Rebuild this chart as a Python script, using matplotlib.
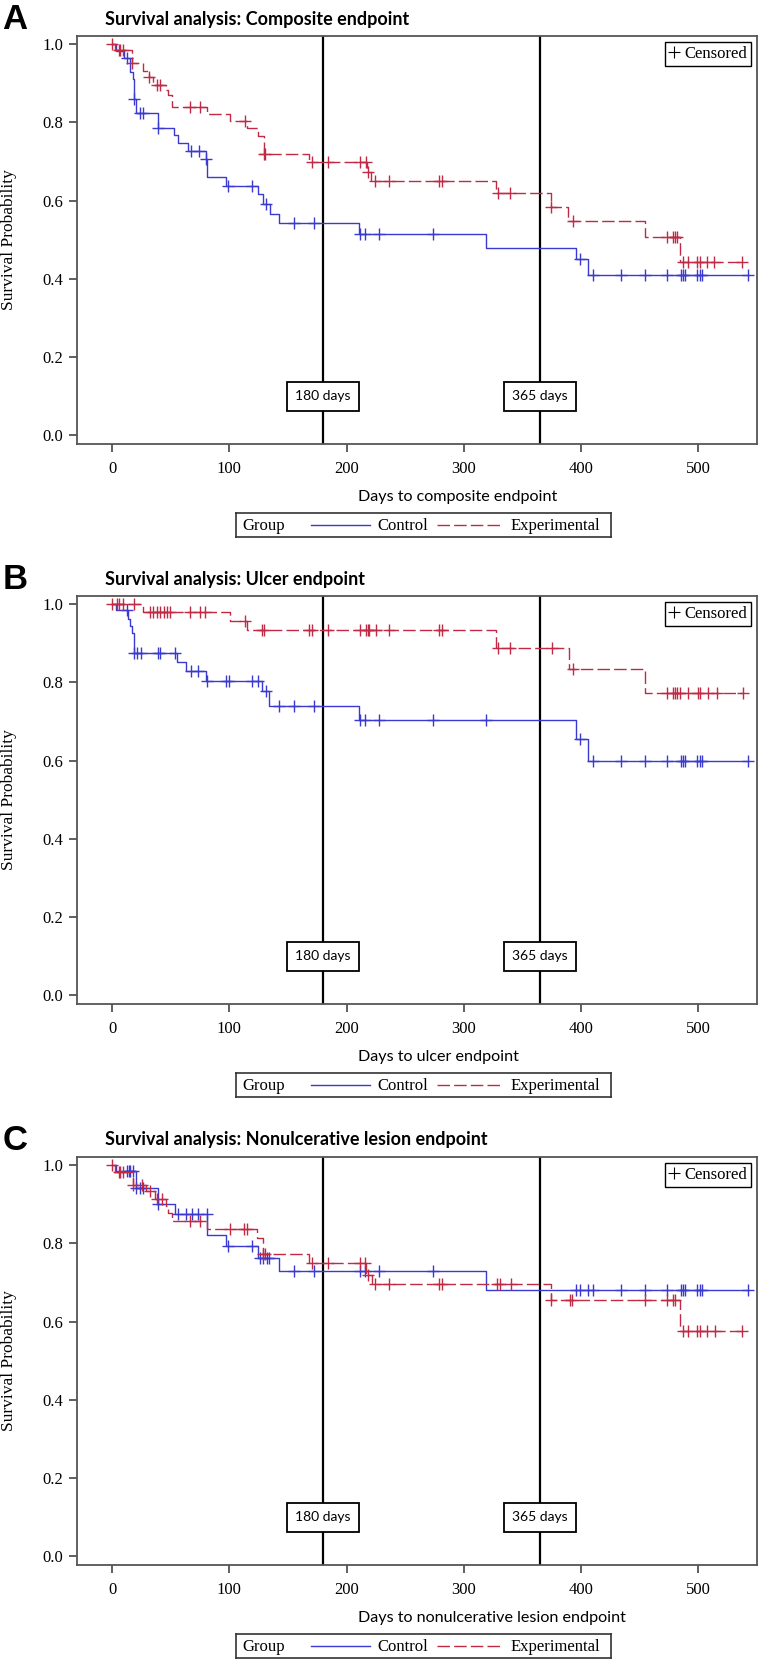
import matplotlib
matplotlib.use("Agg")
import matplotlib.pyplot as plt
import numpy as np
from matplotlib.lines import Line2D

# ---- data (days, survival) ----
titles = ["Survival analysis: Composite endpoint",
          "Survival analysis: Ulcer endpoint",
          "Survival analysis: Nonulcerative lesion endpoint"]
xlabels = ["Days to composite endpoint", "Days to ulcer endpoint",
           "Days to nonulcerative lesion endpoint"]
letters = ["A", "B", "C"]
marks = [180, 365]
xticks = [0, 100, 200, 300, 400, 500]
yticks = [0.0, 0.2, 0.4, 0.6, 0.8, 1.0]

# panel A
a_ctl_t = [3, 10, 15, 17.5, 18.5, 20, 39.5, 52.5, 56, 64.5, 80, 81, 97, 124, 129, 135, 142, 210.5, 319,
           395.5, 406]
a_ctl_s = [0.982, 0.965, 0.93, 0.91, 0.86, 0.825, 0.787, 0.767, 0.747, 0.727, 0.706, 0.66, 0.638, 0.616,
           0.592, 0.567, 0.542, 0.516, 0.48, 0.45, 0.41]
a_ctl_c = [12.5, 18.5, 24, 26, 39.5, 67, 74, 80, 99, 119, 131, 155.5, 172, 211.5, 216, 227.5, 273.5, 399,
           410.5, 434, 454.5, 473.5, 485, 487, 489, 499, 501.5, 503.5, 542.5]
a_exp_t = [2.5, 17, 26, 31, 35, 45.5, 48, 51, 80.5, 100.5, 115, 124, 129.5, 168, 217.5, 221, 327.5, 374,
           389, 454.5, 484.5]
a_exp_s = [0.985, 0.952, 0.932, 0.916, 0.897, 0.882, 0.87, 0.84, 0.821, 0.804, 0.785, 0.765, 0.72, 0.70,
           0.674, 0.65, 0.62, 0.585, 0.548, 0.508, 0.444]
a_exp_c = [0, 5.5, 7, 9.5, 17, 31, 38, 40.5, 66.5, 74.5, 113, 129.5, 130.5, 170.5, 184.5, 211.5, 216.5,
           218.5, 224.5, 236, 279, 281, 329.5, 339.5, 374.5, 393, 473, 478.5, 480, 481.5, 487, 491.5, 499,
           501, 507, 513, 537]

# panel B
b_ctl_t = [3, 13.5, 15.5, 17, 18.5, 55.5, 63, 80, 127.5, 134, 210.5, 395.5, 406]
b_ctl_s = [0.986, 0.962, 0.945, 0.927, 0.876, 0.852, 0.83, 0.804, 0.777, 0.741, 0.704, 0.655, 0.6]
b_ctl_c = [12.5, 18.5, 21.5, 24.5, 39.5, 40.5, 53.5, 67, 73.5, 80.5, 97, 99.5, 119.5, 124, 131, 142.5,
           155.5, 172.5, 211.5, 216, 227.5, 273.5, 319, 399, 410.5, 434, 454.5, 473.5, 485, 487, 489, 499,
           501.5, 503.5, 542.5]
b_exp_t = [26.5, 100.5, 115, 327.5, 389.5, 454.5]
b_exp_s = [0.981, 0.958, 0.934, 0.889, 0.834, 0.774]
b_exp_c = [0, 4, 6, 9, 18.5, 32, 35, 38, 41, 44, 46.5, 49.5, 66, 75, 79.5, 113, 127.5, 129.5, 167.5,
           170.5, 184.5, 211.5, 216.5, 218, 219, 225, 236.5, 279, 281, 329.5, 339.5, 375, 393, 473.5,
           478.5, 480, 481.5, 484.5, 491.5, 500, 501.5, 508.5, 515.5, 538]

# panel C
c_ctl_t = [3, 20.5, 39.5, 54, 81, 97, 124, 142.5, 319]
c_ctl_s = [0.984, 0.943, 0.901, 0.876, 0.821, 0.794, 0.764, 0.73, 0.681]
c_ctl_c = [12.5, 14, 15.5, 17.5, 20.5, 24, 26, 39.5, 56.5, 63, 68, 73.5, 80.5, 99, 119, 126, 129, 132,
           134, 155.5, 172.5, 211.5, 216, 228, 273.5, 395.5, 399, 406, 410.5, 434, 454.5, 473.5, 485, 487,
           489, 499, 501.5, 503.5, 542.5]
c_exp_t = [2.5, 17.5, 29, 36.5, 45.5, 48, 51, 80.5, 123.5, 129, 167.5, 216.5, 221.5, 374, 484.5]
c_exp_s = [0.983, 0.95, 0.934, 0.914, 0.895, 0.877, 0.858, 0.837, 0.815, 0.772, 0.749, 0.72, 0.696,
           0.655, 0.575]
c_exp_c = [0, 5.5, 7, 9.5, 18, 25.5, 32.5, 38, 42.5, 66.5, 75, 100.5, 112.5, 115, 129, 130, 170.5, 184,
           211.5, 216, 218.5, 224.5, 236.5, 279, 281, 328.5, 330.5, 340, 374.5, 390.5, 392, 454.5, 473,
           478.5, 480, 486.5, 491.5, 499, 501, 507, 514, 537]

ctl_end = 542.5
exp_end = 538

panels = [(a_ctl_t, a_ctl_s, a_ctl_c, a_exp_t, a_exp_s, a_exp_c),
          (b_ctl_t, b_ctl_s, b_ctl_c, b_exp_t, b_exp_s, b_exp_c),
          (c_ctl_t, c_ctl_s, c_ctl_c, c_exp_t, c_exp_s, c_exp_c)]

BLUE = "#3a3ad0"
RED = "#c02a45"
SERIF = "Liberation Serif"
SANS = "Lato"
DASH = (0, (9, 3))

plt.rcParams["font.family"] = [SERIF, "DejaVu Serif"]

W, H = 769, 1660
fig = plt.figure(figsize=(W / 100, H / 100), dpi=100)


def px_rect(l, t, r, b):
    return [l / W, 1 - b / H, (r - l) / W, (b - t) / H]


def km(ax, t, s, c, end, color, ls):
    t = np.asarray(t, float); s = np.asarray(s, float); c = np.asarray(c, float)
    xs = np.r_[0, t, end]
    ys = np.r_[1.0, s, s[-1]]
    ax.step(xs, ys, where="post", color=color, lw=1.0, ls=ls)
    lvl = np.r_[1.0, s][np.searchsorted(t, c, side="right")]
    ax.plot(c, lvl, ls="none", marker="+", ms=8, mew=1.0, color=color)


offs = [0, 560, 1121]
for i, (ct, cs, cc, et, es, ec) in enumerate(panels):
    o = offs[i]
    ax = fig.add_axes(px_rect(77, 36 + o, 757, 444 + o))
    km(ax, ct, cs, cc, ctl_end, BLUE, "-")
    km(ax, et, es, ec, exp_end, RED, DASH)
    for m in marks:
        ax.axvline(m, color="black", lw=1.6, zorder=1)
        ax.text(m, 0.1, f"{m} days", ha="center", va="center", fontsize=10, family=SANS,
                bbox=dict(boxstyle="square,pad=0.6", fc="white", ec="black", lw=1.3), zorder=5)
    ax.set_xlim(-30, 550)
    ax.set_ylim(-0.022, 1.021)
    ax.set_xticks(xticks)
    ax.set_xticklabels([str(v) for v in xticks], family=SERIF, fontsize=12)
    ax.set_yticks(yticks)
    ax.set_yticklabels([f"{v:.1f}" for v in yticks], family=SERIF, fontsize=12)
    ax.tick_params(direction="out", length=6, width=1.2, color="#444444")
    ax.tick_params(axis="x", pad=6)
    ax.tick_params(axis="y", pad=4)
    for sp in ax.spines.values():
        sp.set_color("#555555")
        sp.set_linewidth(1.3)
    ax.set_ylabel("Survival Probability", family=SERIF, fontsize=12.5)
    ax.yaxis.set_label_coords((17 - 77) / 680, 0.5)
    ax.legend(handles=[Line2D([], [], ls="none", marker="+", ms=8, mew=0.8, color="black")],
              labels=["Censored"], loc="upper right", fancybox=False, edgecolor="black",
              framealpha=1, handlelength=0.6, handletextpad=0.3, borderpad=0.25,
              borderaxespad=0.35, prop={"family": SERIF, "size": 12}).get_frame().set_linewidth(1.0)

    fig.text(15 / W, 1 - (19.5 + o) / H, letters[i], fontsize=25, fontweight="bold",
             family="Liberation Sans", ha="center", va="center")
    fig.text(105 / W, 1 - (19 + o) / H, titles[i], fontsize=13, fontweight="bold",
             family=SANS, ha="left", va="center")
    fig.text(358 / W, 1 - (497 + o) / H, xlabels[i], fontsize=11.6, family=SANS,
             ha="left", va="center")

    # group legend box under the plot
    lax = fig.add_axes(px_rect(236, 513 + o, 611, 537 + o))
    lax.set_xlim(236, 611)
    lax.set_ylim(0, 1)
    lax.set_xticks([])
    lax.set_yticks([])
    for sp in lax.spines.values():
        sp.set_color("#333333")
        sp.set_linewidth(1.2)
    lax.text(242, 0.45, "Group", family=SERIF, fontsize=12, va="center")
    lax.plot([311, 370], [0.5, 0.5], color=BLUE, lw=1.0)
    lax.text(377, 0.45, "Control", family=SERIF, fontsize=12, va="center")
    lax.plot([437, 500], [0.5, 0.5], color=RED, lw=1.0, ls=DASH)
    lax.text(511, 0.45, "Experimental", family=SERIF, fontsize=12, va="center")

fig.savefig("out.png", dpi=100)
